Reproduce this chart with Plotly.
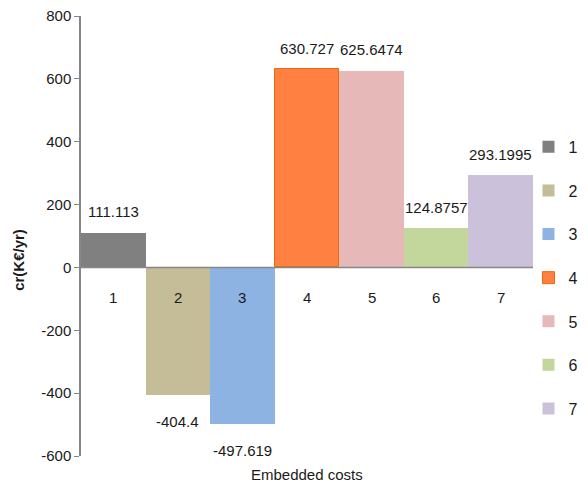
import plotly.graph_objects as go

categories = ["1", "2", "3", "4", "5", "6", "7"]
values = [111.113, -404.4, -497.619, 630.727, 625.6474, 124.8757, 293.1995]
value_labels = ["111.113", "-404.4", "-497.619", "630.727", "625.6474", "124.8757", "293.1995"]
colors = ["#808080", "#C4BD97", "#8DB3E2", "#FF8040", "#E6B9B8", "#C3D69B", "#CCC1DA"]
legend_colors = ["#808080", "#C4BD97", "#8DB3E2", "#E46C0A", "#E6B9B8", "#C3D69B", "#CCC1DA"]
y_ticks = [-600, -400, -200, 0, 200, 400, 600, 800]
y_tick_labels = ["-600", "-400", "-200", "0", "200", "400", "600", "800"]

FONT = "Liberation Sans, Arial, sans-serif"

fig = go.Figure()
for i, (c, v) in enumerate(zip(categories, values)):
    fig.add_trace(go.Bar(
        x=[c], y=[v], name=c, legendgroup=c,
        marker=dict(color=colors[i], line=dict(width=1 if i == 3 else 0, color=legend_colors[i])),
        width=1.0, showlegend=True, hoverinfo="skip",
    ))

annotations = []
for i, (c, v, t) in enumerate(zip(categories, values, value_labels)):
    annotations.append(dict(x=i, y=v, xref="x", yref="y", text=t, showarrow=False,
                            yshift=21 if v >= 0 else -27,
                            font=dict(size=15, color="#1a1a1a", family=FONT)))
    annotations.append(dict(x=i, y=0, xref="x", yref="y", text=c, showarrow=False,
                            yshift=-30, font=dict(size=15, color="#1a1a1a", family=FONT)))
annotations.append(dict(x=0.5, y=-0.043, xref="paper", yref="paper", text="Embedded costs",
                        showarrow=False, yanchor="middle",
                        font=dict(size=15, color="#1a1a1a", family=FONT)))
annotations.append(dict(x=-0.138, y=0.445, xref="paper", yref="paper", text="<b>cr(K€/yr)</b>",
                        showarrow=False, textangle=-90, xanchor="center", yanchor="middle",
                        font=dict(size=15, color="#1a1a1a", family=FONT)))

fig.update_layout(
    width=580, height=479,
    margin=dict(l=73, r=55, t=8, b=31, autoexpand=False),
    paper_bgcolor="white", plot_bgcolor="white",
    barmode="relative", bargap=0,
    font=dict(family=FONT, size=15, color="#1a1a1a"),
    xaxis=dict(type="category", showticklabels=False, showline=False, showgrid=False,
               zeroline=False, ticks="", range=[-0.5, 6.5]),
    yaxis=dict(range=[-600, 800], tickvals=y_ticks, ticktext=y_tick_labels,
               showgrid=False, zeroline=False, automargin=False,
               ticklabeloverflow="allow",
               showline=True, linecolor="#868686", linewidth=1.5,
               ticks="outside", ticklen=5, tickcolor="#868686",
               tickfont=dict(size=15, family=FONT)),
    legend=dict(x=0.99, xanchor="left", y=0.741, yanchor="top", tracegroupgap=19.8,
                traceorder="grouped", font=dict(size=16, family=FONT),
                itemwidth=30, bgcolor="rgba(0,0,0,0)"),
    annotations=annotations,
    shapes=[dict(type="line", xref="paper", yref="y", x0=0, x1=1, y0=0, y1=0,
                 line=dict(color="#868686", width=1.5), layer="above")],
)

fig.write_html("out.html")
